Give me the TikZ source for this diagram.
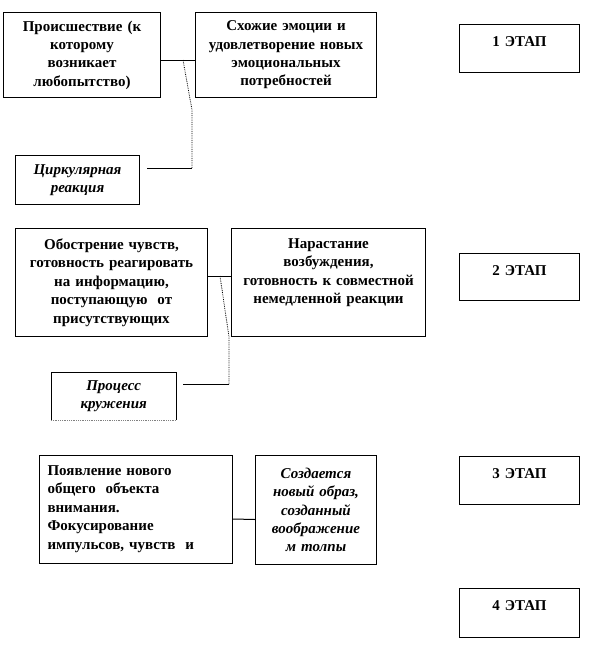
\documentclass[tikz,border=0pt]{standalone}
\usepackage{fontspec}
\setmainfont{Liberation Serif}
\usetikzlibrary{positioning}

\tikzset{
  box/.style={draw,line width=1pt,anchor=north west,inner sep=0pt,align=center,
    font=\bfseries\fontsize{15}{18.4}\selectfont},
  topbox/.style={box,text height=20pt,text depth=#1},
  stagebox/.style={box,minimum width=120pt,text width=120pt,text height=22pt,text depth=#1},
  link/.style={line width=1pt},
  trail/.style={line width=0.8pt,densely dotted}
}

\begin{document}
\begin{tikzpicture}[x=1pt,y=-1pt]
    \useasboundingbox (0,0) rectangle (615,672);
    \node[box,minimum width=157pt,minimum height=85pt,text width=150pt] (B1) at (3,12)
      {Происшествие (к\\ которому\\ возникает\\ любопытство)};
    \node[box,minimum width=181pt,minimum height=85pt,text width=175pt] (B2) at (195,12)
      {Схожие эмоции и\\ удовлетворение новых\\ эмоциональных\\ потребностей};
    \node[box,minimum width=124pt,minimum height=49pt,text width=118pt,
      font=\bfseries\itshape\fontsize{15}{18.4}\selectfont] (C1) at (15,155)
      {Циркулярная\\ реакция};
    \draw[link] ([yshift=-5.5pt]B1.east) -- ([yshift=-5.5pt]B2.west);
    \coordinate (J1) at (183,60);
    \coordinate (K1) at (192,110);
    \coordinate (M1) at (192,168);
    \coordinate (E1) at (147,168);
    \draw[trail] (J1) -- (K1) -- (M1);
    \draw[link] (M1) -- (E1);

    \node[box,minimum width=192pt,minimum height=108pt,text width=186pt] (B3) at (15,228)
      {Обострение чувств,\\ готовность реагировать\\ на информацию,\\ поступающую~ от\\ присутствующих};
    \node[topbox=88pt,minimum width=194pt,text width=194pt] (B4) at (231,228)
      {Нарастание\\ возбуждения,\\ готовность к совместной\\ немедленной реакции};
    \node[minimum width=125pt,minimum height=48pt,text width=119pt,anchor=north west,
      inner sep=0pt,align=center,font=\bfseries\itshape\fontsize{15}{18.4}\selectfont] (C2) at (51,372)
      {Процесс\\ кружения};
    \draw[link] (C2.south west) -- (C2.north west) -- (C2.north east) -- (C2.south east);
    \draw[trail,gray] (C2.south west) -- (C2.south east);
    \draw[link] ([yshift=6pt]B3.east) -- ([yshift=6pt]B4.west);
    \coordinate (J2) at (220,276);
    \coordinate (K2) at (229,337);
    \coordinate (M2) at (229,384);
    \coordinate (E2) at (183,384);
    \draw[trail] (J2) -- (K2) -- (M2);
    \draw[link] (M2) -- (E2);

    \node[topbox=88pt,minimum width=193pt,text width=177pt,align=left] (B5) at (39,455)
      {Появление нового\\ общего~ объекта\\ внимания.\\ Фокусирование\\ импульсов, чувств~ и};
    \node[box,minimum width=121pt,minimum height=109pt,text width=117pt,
      font=\bfseries\itshape\fontsize{15}{18.4}\selectfont] (B6) at (255,455)
      {Создается\\ новый образ,\\ созданный\\ воображение\\ м толпы};
    \draw[link] ([yshift=-9.5pt]B5.east) -- ([yshift=-9.5pt]B6.west);

    \node[stagebox=26pt] (S1) at (459,24) {1 ЭТАП};
    \node[stagebox=25pt] (S2) at (459,253) {2 ЭТАП};
    \node[stagebox=26pt] (S3) at (459,456) {3 ЭТАП};
    \node[stagebox=27pt] (S4) at (459,588) {4 ЭТАП};
  \end{tikzpicture}
\end{document}
